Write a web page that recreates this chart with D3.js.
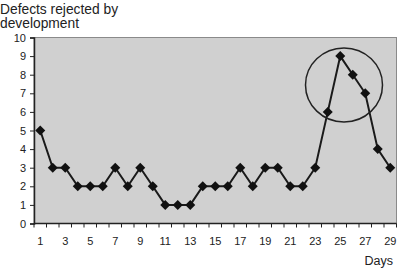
<html>
<head>
<style>
body { margin: 0; background: #fff; font-family: "Liberation Sans", Arial, sans-serif; }
svg text { fill: #222; }
</style>
</head>
<body>
<script src="https://d3js.org/d3.v7.min.js"></script>
<script>
const width = 399, height = 269;

// data
const days = d3.range(1, 30);
const defects = [5, 3, 3, 2, 2, 2, 3, 2, 3, 2, 1, 1, 1, 2, 2, 2, 3, 2, 3, 3, 2, 2, 3, 6, 9, 8, 7, 4, 3];
const yTicks = d3.range(0, 11);
const titleLines = ['Defects rejected by', 'development'];
const xTitle = 'Days';
// highlighted region (centre in data units)
const highlight = {day: 25.3, value: 7.45};

const margin = {top: 37.5, right: 2.5, bottom: 45.5, left: 34};
const x = d3.scaleBand().domain(days).range([margin.left, width - margin.right]);
const y = d3.scaleLinear().domain([0, 10]).range([height - margin.bottom, margin.top]);
const cx = d => x(d) + x.bandwidth() / 2;

const svg = d3.select('body').append('svg')
    .attr('width', width)
    .attr('height', height);

svg.append('rect')
    .attr('x', margin.left).attr('y', margin.top)
    .attr('width', width - margin.left - margin.right)
    .attr('height', y(0) - margin.top)
    .attr('fill', '#d0d0d0')
    .attr('stroke', '#8a8a8a')
    .attr('stroke-width', 1);

// y axis
const yAxis = svg.append('g')
    .attr('transform', 'translate(' + margin.left + ',0)')
    .call(d3.axisLeft(y).tickValues(yTicks).tickSize(4).tickPadding(4));
yAxis.select('.domain').attr('stroke', '#222').attr('stroke-width', 1.5);
yAxis.selectAll('.tick line').attr('stroke', '#222');
yAxis.selectAll('text').attr('font-size', 11).attr('font-family', '"Liberation Sans", Arial, sans-serif').attr('fill', '#222');

// x axis: ticks between categories, labels on odd days
const xg = svg.append('g').attr('transform', 'translate(0,' + y(0) + ')');
xg.append('line')
    .attr('x1', margin.left).attr('x2', width - margin.right)
    .attr('stroke', '#222').attr('stroke-width', 1.5);
xg.selectAll('.tk')
    .data(days.concat([30]))
    .enter().append('line')
    .attr('x1', d => d <= 29 ? x(d) : width - margin.right)
    .attr('x2', d => d <= 29 ? x(d) : width - margin.right)
    .attr('y1', 0).attr('y2', 4)
    .attr('stroke', '#222');
xg.selectAll('.lbl')
    .data(days.filter(d => d % 2 === 1))
    .enter().append('text')
    .attr('x', cx)
    .attr('y', 21)
    .attr('text-anchor', 'middle')
    .attr('font-size', 11)
    .text(d => d);

svg.append('text')
    .attr('x', width - 6)
    .attr('y', 265)
    .attr('text-anchor', 'end')
    .attr('font-size', 12.5)
    .text(xTitle);

svg.selectAll('.title')
    .data(titleLines)
    .enter().append('text')
    .attr('x', 0)
    .attr('y', (d, i) => 13.5 + i * 14.5)
    .attr('font-size', 13.8)
    .text(d => d);

// line + diamond markers
const line = d3.line().x((d, i) => cx(days[i])).y(d => y(d));
svg.append('path')
    .datum(defects)
    .attr('fill', 'none')
    .attr('stroke', '#1a1a1a')
    .attr('stroke-width', 2)
    .attr('d', line);

svg.selectAll('.pt')
    .data(defects)
    .enter().append('path')
    .attr('transform', (d, i) => 'translate(' + cx(days[i]) + ',' + y(d) + ')')
    .attr('d', 'M0,-5L5,0L0,5L-5,0Z')
    .attr('fill', '#111');

// circle around the spike
svg.append('ellipse')
    .attr('cx', x(25) + x.bandwidth() / 2 + (highlight.day - 25) * x.step())
    .attr('cy', y(highlight.value))
    .attr('rx', 38.5)
    .attr('ry', 37)
    .attr('fill', 'none')
    .attr('stroke', '#222')
    .attr('stroke-width', 1.5);
</script>
</body>
</html>
